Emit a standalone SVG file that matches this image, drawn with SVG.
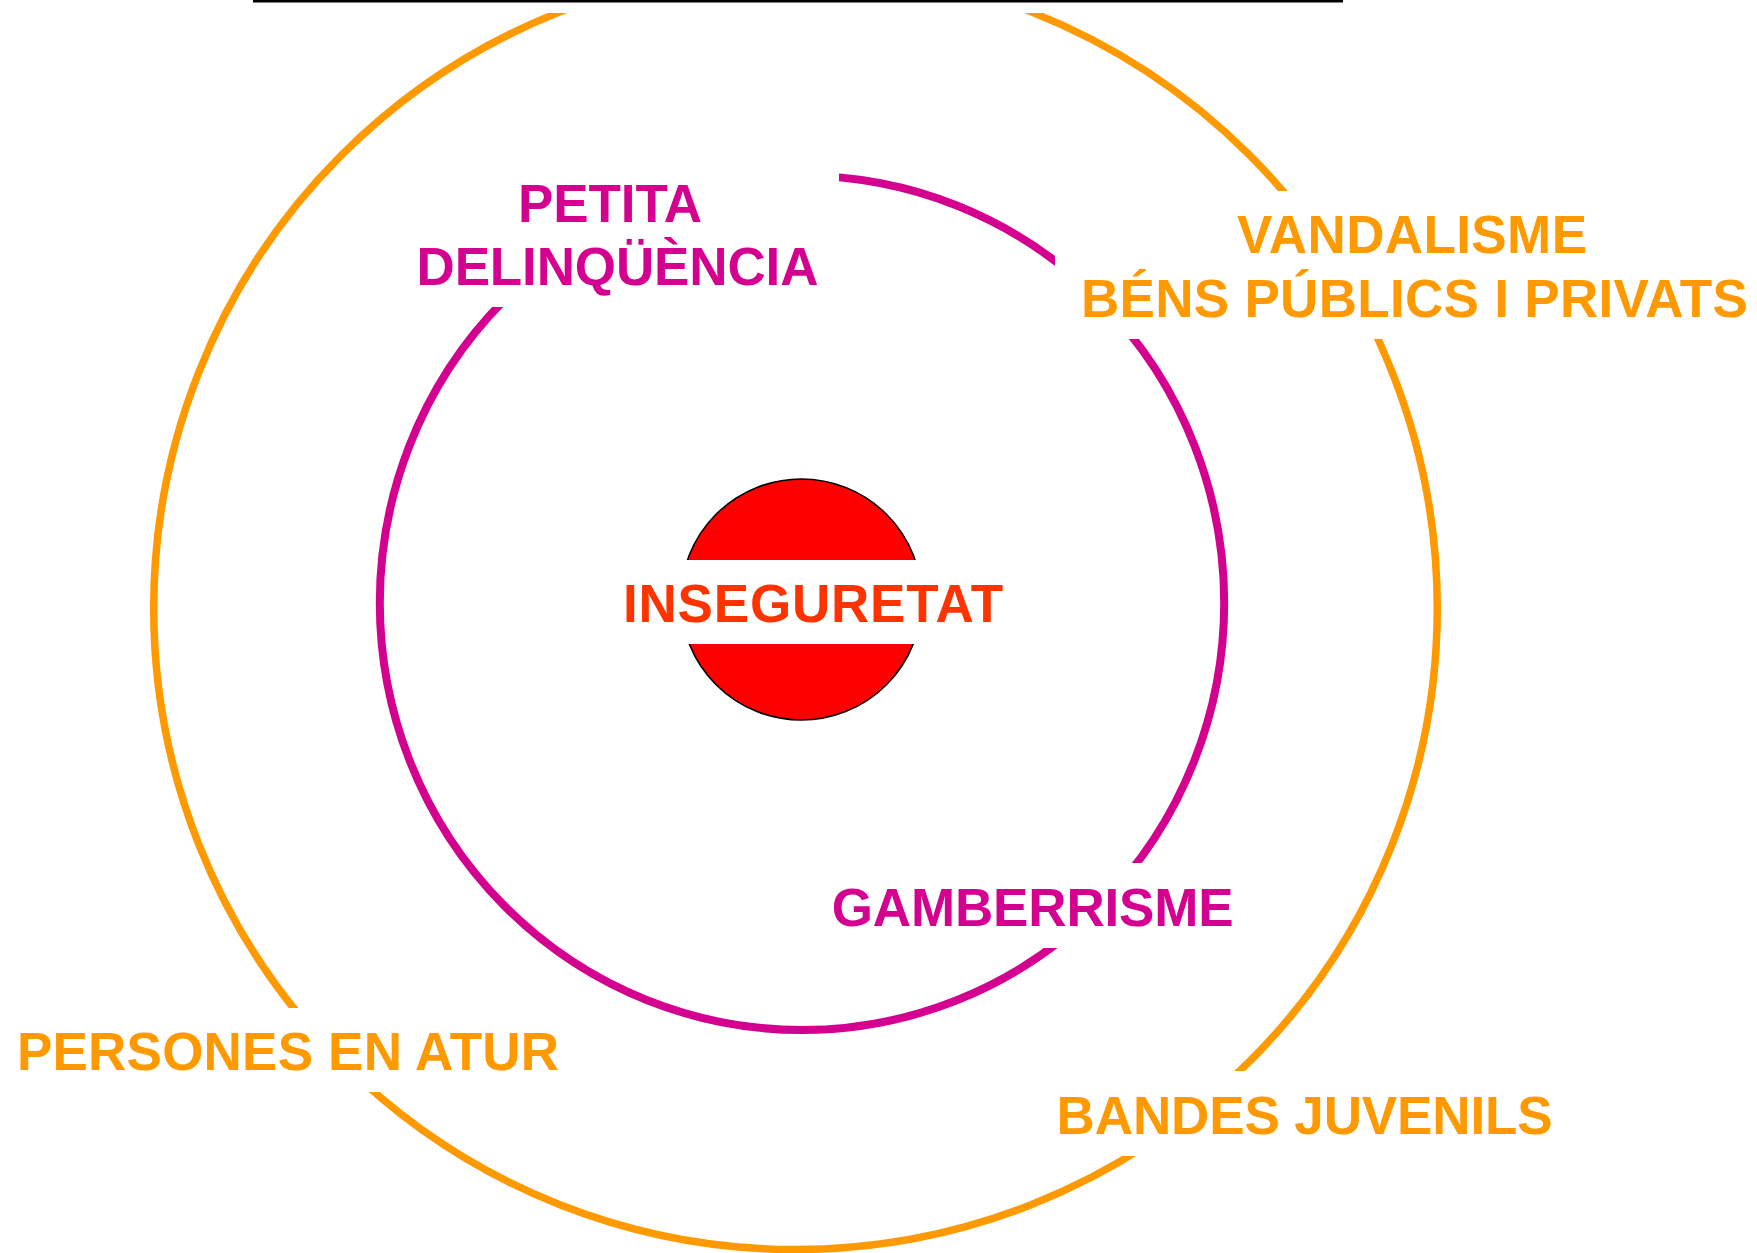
<svg xmlns="http://www.w3.org/2000/svg" width="1757" height="1253" viewBox="0 0 1757 1253">
<style>
.lbl{font-family:"Liberation Sans",Arial,sans-serif;font-weight:bold;font-size:53px;text-anchor:middle}
.mag{fill:#D4008F}
.org{fill:#FF9900}
.bg{fill:#FFFFFF}
.ring{fill:none}
</style>
<rect width="1757" height="1253" fill="#FFFFFF"/>
<g id="rings">
<ellipse class="ring" cx="795.5" cy="608.3" rx="641.8" ry="641.2" stroke="#FF9900" stroke-width="7.5"/>
<ellipse class="ring" cx="802" cy="602.9" rx="422.2" ry="427.1" stroke="#D4008F" stroke-width="8"/>
</g>
<g id="top-frame">
<rect class="bg" x="253" y="0" width="1090" height="13"/>
<rect x="253" y="0" width="1090" height="2.5" fill="#000000"/>
</g>
<g id="petita-delinquencia">
<rect class="bg" x="400" y="150" width="439" height="157"/>
<text class="lbl mag" x="610" y="221.5" textLength="184" lengthAdjust="spacing">PETITA</text>
<text class="lbl mag" x="617.5" y="285" textLength="402" lengthAdjust="spacing">DELINQÜÈNCIA</text>
</g>
<g id="vandalisme">
<rect class="bg" x="1055" y="191" width="702" height="148"/>
<text class="lbl org" x="1412" y="252.7" textLength="350" lengthAdjust="spacing">VANDALISME</text>
<text class="lbl org" x="1414.4" y="316.7" textLength="667" lengthAdjust="spacing">BÉNS PÚBLICS I PRIVATS</text>
</g>
<g id="gamberrisme">
<rect class="bg" x="820" y="863" width="425" height="85"/>
<text class="lbl mag" x="1032.7" y="926" textLength="402" lengthAdjust="spacing">GAMBERRISME</text>
</g>
<g id="persones-en-atur">
<rect class="bg" x="0" y="1008" width="575" height="84"/>
<text class="lbl org" x="288" y="1070" textLength="542" lengthAdjust="spacing">PERSONES EN ATUR</text>
</g>
<g id="bandes-juvenils">
<rect class="bg" x="1045" y="1071" width="520" height="85"/>
<text class="lbl org" x="1304.6" y="1134.3" textLength="496" lengthAdjust="spacing">BANDES JUVENILS</text>
</g>
<g id="inseguretat">
<circle cx="801.3" cy="599.5" r="120.5" fill="#FF0000" stroke="#000000" stroke-width="1.5"/>
<rect class="bg" x="615" y="560" width="395" height="84"/>
<text class="lbl" x="813" y="621.7" fill="#FF3300" textLength="380" lengthAdjust="spacing">INSEGURETAT</text>
</g>
</svg>
